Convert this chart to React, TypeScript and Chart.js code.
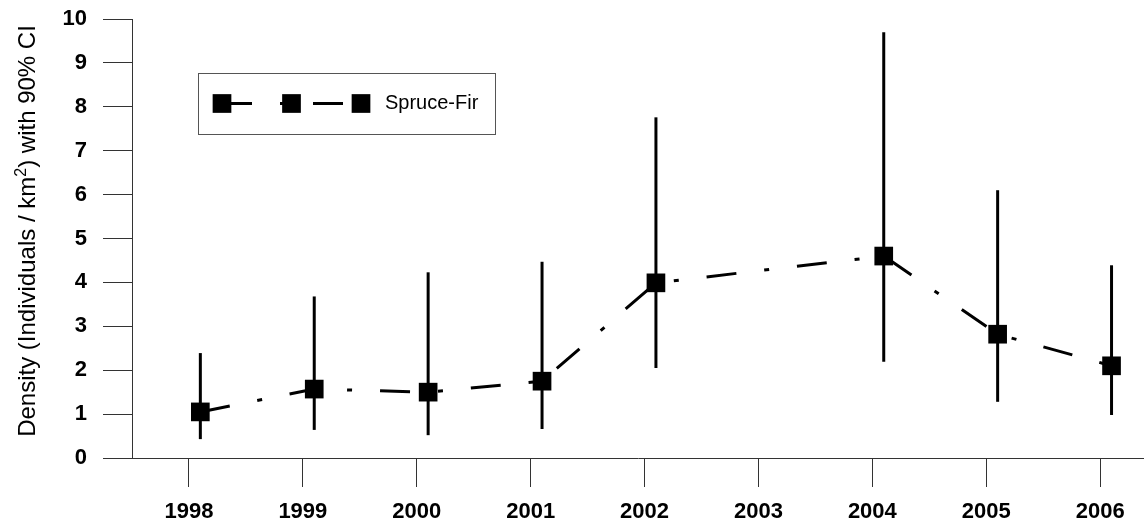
import React, { useEffect, useRef } from 'react';
import { Chart, registerables } from 'chart.js';

Chart.register(...registerables);

// ---- data ----
const surveyYears = [1998, 1999, 2000, 2001, 2002, 2004, 2005, 2006];
const axisYears = [1998, 1999, 2000, 2001, 2002, 2003, 2004, 2005, 2006];
const density = [1.05, 1.57, 1.5, 1.75, 3.99, 4.6, 2.82, 2.1];
const ciLow = [0.43, 0.64, 0.52, 0.66, 2.05, 2.19, 1.28, 0.98];
const ciHigh = [2.39, 3.68, 4.23, 4.47, 7.76, 9.7, 6.1, 4.39];
const yTickValues = [0, 1, 2, 3, 4, 5, 6, 7, 8, 9, 10];
const seriesLabel = 'Spruce-Fir';
const yTitlePre = 'Density (Individuals / km';
const yTitleSup = '2';
const yTitlePost = ') with 90% CI';
const markerOffset = 0.1;

const FONT = "'Liberation Sans', Arial, Helvetica, sans-serif";
const DASH = [30, 28, 5, 28];

const errorBarPlugin = {
  id: 'errorBars',
  beforeDatasetsDraw(chart: any) {
    const { ctx, scales } = chart;
    const x = scales.x;
    const y = scales.y;
    ctx.save();
    ctx.strokeStyle = '#000';
    ctx.lineWidth = 3;
    ctx.lineCap = 'butt';
    surveyYears.forEach((yr, i) => {
      const px = x.getPixelForValue(yr + markerOffset);
      ctx.beginPath();
      ctx.moveTo(px, y.getPixelForValue(ciLow[i]));
      ctx.lineTo(px, y.getPixelForValue(ciHigh[i]));
      ctx.stroke();
    });
    ctx.restore();
  },
};

const yTitlePlugin = {
  id: 'yTitle',
  afterDraw(chart: any) {
    const { ctx } = chart;
    ctx.save();
    ctx.translate(35, 231);
    ctx.rotate(-Math.PI / 2);
    ctx.fillStyle = '#000';
    ctx.textBaseline = 'alphabetic';
    ctx.textAlign = 'left';
    const mainFont = `24px ${FONT}`;
    const supFont = `16px ${FONT}`;
    ctx.font = mainFont;
    const w1 = ctx.measureText(yTitlePre).width;
    const w3 = ctx.measureText(yTitlePost).width;
    ctx.font = supFont;
    const w2 = ctx.measureText(yTitleSup).width;
    let px = -(w1 + w2 + w3) / 2;
    ctx.font = mainFont;
    ctx.fillText(yTitlePre, px, 0);
    px += w1;
    ctx.font = supFont;
    ctx.fillText(yTitleSup, px, -9);
    px += w2;
    ctx.font = mainFont;
    ctx.fillText(yTitlePost, px, 0);
    ctx.restore();
  },
};

const legendPlugin = {
  id: 'customLegend',
  afterDraw(chart: any) {
    const { ctx } = chart;
    const bx = 198, by = 73, bw = 297, bh = 61;
    ctx.save();
    ctx.strokeStyle = '#555';
    ctx.lineWidth = 1;
    ctx.strokeRect(bx + 0.5, by + 0.5, bw, bh);
    const cy = by + bh / 2;
    const x0 = 222, x1 = 361;
    ctx.strokeStyle = '#000';
    ctx.lineWidth = 3;
    ctx.setLineDash(DASH);
    ctx.beginPath();
    ctx.moveTo(x0, cy);
    ctx.lineTo(x1, cy);
    ctx.stroke();
    ctx.setLineDash([]);
    ctx.fillStyle = '#000';
    const s = 18.7;
    [x0, (x0 + x1) / 2, x1].forEach((mx) => {
      ctx.fillRect(mx - s / 2, cy - s / 2, s, s);
    });
    ctx.font = `20px ${FONT}`;
    ctx.textAlign = 'left';
    ctx.textBaseline = 'middle';
    ctx.fillText(seriesLabel, 385, cy);
    ctx.restore();
  },
};

export default function App() {
  const ref = useRef<HTMLCanvasElement | null>(null);

  useEffect(() => {
    document.body.style.margin = '0';
    if (!ref.current) return;
    const chart = new Chart(ref.current, {
      type: 'line',
      data: {
        datasets: [
          {
            label: seriesLabel,
            data: surveyYears.map((yr, i) => ({ x: yr + markerOffset, y: density[i] })),
            borderColor: '#000',
            borderWidth: 3,
            borderDash: DASH,
            borderCapStyle: 'butt',
            tension: 0,
            pointStyle: 'rect',
            pointRadius: 13.2,
            pointHoverRadius: 13.2,
            pointBackgroundColor: '#000',
            pointBorderWidth: 0,
            fill: false,
          },
        ],
      },
      options: {
        responsive: false,
        animation: false,
        devicePixelRatio: 1,
        layout: { autoPadding: false, padding: { top: 19, left: 0, right: 0, bottom: 0 } },
        plugins: {
          legend: { display: false },
          tooltip: { enabled: false },
        },
        scales: {
          x: {
            type: 'linear',
            min: 1997.5,
            max: 2006.385,
            afterBuildTicks: (axis: any) => {
              axis.ticks = axisYears.map((v) => ({ value: v }));
            },
            afterFit: (axis: any) => {
              axis.height = 69;
              axis.paddingLeft = 0;
              axis.paddingRight = 0;
            },
            grid: {
              display: true,
              drawOnChartArea: false,
              drawTicks: true,
              tickLength: 29,
              color: '#333',
              lineWidth: 1,
            },
            border: { display: true, color: '#333', width: 1 },
            ticks: {
              color: '#000',
              font: { family: FONT, size: 22, weight: 'bold' },
              padding: 12,
              maxRotation: 0,
              autoSkip: false,
              callback: (v: any) => String(v),
            },
          },
          y: {
            type: 'linear',
            min: 0,
            max: 10,
            afterBuildTicks: (axis: any) => {
              axis.ticks = yTickValues.map((v) => ({ value: v }));
            },
            afterFit: (axis: any) => {
              axis.width = 132;
              axis.paddingTop = 0;
              axis.paddingBottom = 0;
            },
            grid: {
              display: true,
              drawOnChartArea: false,
              drawTicks: true,
              tickLength: 29,
              color: '#333',
              lineWidth: 1,
            },
            border: { display: true, color: '#333', width: 1 },
            ticks: {
              color: '#000',
              font: { family: FONT, size: 22, weight: 'bold' },
              padding: 16,
              autoSkip: false,
            },
            title: { display: false },
          },
        },
      },
      plugins: [errorBarPlugin, legendPlugin, yTitlePlugin],
    } as any);
    return () => chart.destroy();
  }, []);

  return (
    <div style={{ width: 1144, height: 527, overflow: 'hidden' }}>
      <canvas ref={ref} width={1144} height={527} style={{ display: 'block' }} />
    </div>
  );
}
